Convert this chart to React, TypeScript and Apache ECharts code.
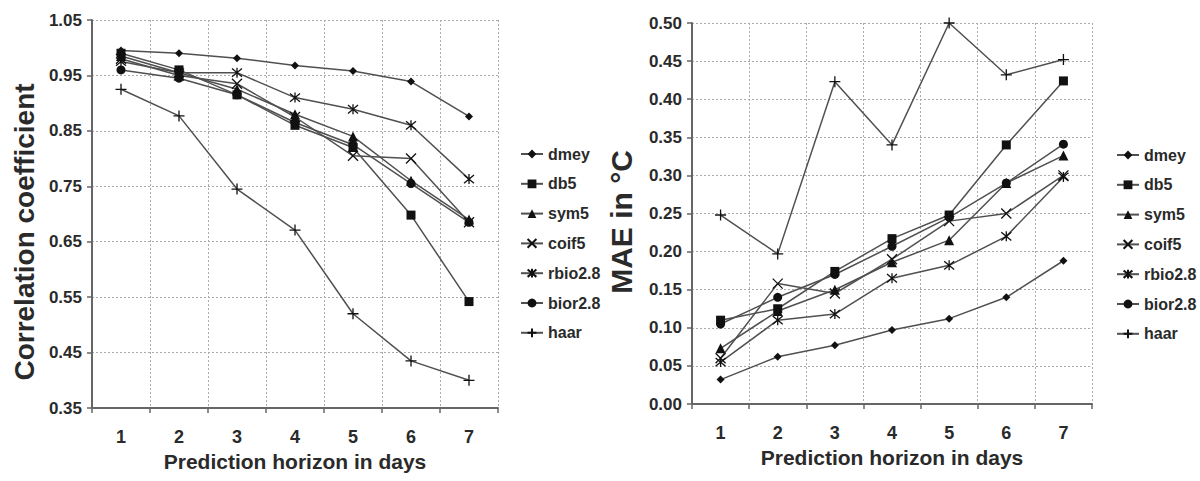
import React, { useEffect, useRef } from "react";
import * as echarts from "echarts";

const days = ["1", "2", "3", "4", "5", "6", "7"];
const seriesNames = ["dmey", "db5", "sym5", "coif5", "rbio2.8", "bior2.8", "haar"];

// Correlation coefficient (left chart)
const corrDmey = [0.995, 0.99, 0.981, 0.968, 0.958, 0.939, 0.876];
const corrDb5 = [0.99, 0.96, 0.915, 0.86, 0.82, 0.698, 0.542];
const corrSym5 = [0.985, 0.955, 0.925, 0.88, 0.84, 0.76, 0.69];
const corrCoif5 = [0.98, 0.95, 0.935, 0.875, 0.805, 0.8, 0.685];
const corrRbio28 = [0.975, 0.955, 0.955, 0.91, 0.889, 0.86, 0.763];
const corrBior28 = [0.96, 0.945, 0.915, 0.865, 0.825, 0.755, 0.685];
const corrHaar = [0.925, 0.877, 0.745, 0.671, 0.52, 0.435, 0.4];

// MAE in °C (right chart)
const maeDmey = [0.032, 0.062, 0.077, 0.097, 0.112, 0.14, 0.188];
const maeDb5 = [0.11, 0.125, 0.174, 0.217, 0.248, 0.34, 0.424];
const maeSym5 = [0.073, 0.122, 0.15, 0.186, 0.215, 0.29, 0.326];
const maeCoif5 = [0.06, 0.158, 0.145, 0.19, 0.24, 0.25, 0.3];
const maeRbio28 = [0.055, 0.11, 0.118, 0.165, 0.182, 0.22, 0.298];
const maeBior28 = [0.105, 0.14, 0.17, 0.207, 0.245, 0.29, 0.341];
const maeHaar = [0.248, 0.197, 0.423, 0.34, 0.5, 0.432, 0.452];

const corrTickLabels = ["0.35", "0.45", "0.55", "0.65", "0.75", "0.85", "0.95", "1.05"];

const corrData = [corrDmey, corrDb5, corrSym5, corrCoif5, corrRbio28, corrBior28, corrHaar];
const maeData = [maeDmey, maeDb5, maeSym5, maeCoif5, maeRbio28, maeBior28, maeHaar];

const symbols = [
  "diamond",
  "rect",
  "triangle",
  "path://M0,0L10,10M10,0L0,10",
  "path://M0,1L10,11M10,1L0,11M5,0L5,12",
  "circle",
  "path://M0,5L10,5M5,0L5,10",
];
const symbolSizes = [8, 9, 10, 10, 10, 9, 11];

const FONT = "'Liberation Sans', Arial, sans-serif";
const TXT = "#2a2a2a";

export default function App() {
  const ref = useRef<HTMLDivElement>(null);
  useEffect(() => {
    if (!ref.current) return;
    const chart = echarts.init(ref.current, undefined, { renderer: "svg" });

    const gridLine = { show: true, lineStyle: { color: "#aaa", type: [2, 2] as any, width: 1 } };
    const xAxisCommon = {
      type: "category",
      data: days,
      boundaryGap: true,
      axisLine: { show: true, lineStyle: { color: "#666", width: 2 } },
      axisTick: { show: true, length: 5, lineStyle: { color: "#666", width: 1.5 } },
      axisLabel: { margin: 20, fontSize: 18, fontWeight: "bold", color: TXT, fontFamily: FONT },
      splitLine: gridLine,
      name: "Prediction horizon in days",
      nameLocation: "middle",
      nameGap: 43,
      nameTextStyle: { fontSize: 21, fontWeight: "bold", color: TXT, fontFamily: FONT },
    };

    const makeSeries = (data: number[][], axisIdx: number, yIdx: number) =>
      seriesNames.map((n, i) => ({
        name: n,
        type: "line",
        xAxisIndex: axisIdx,
        yAxisIndex: yIdx,
        data: data[i],
        symbol: symbols[i],
        symbolSize: symbolSizes[i],
        showSymbol: true,
        lineStyle: { color: "#505050", width: 1.5 },
        itemStyle: { color: "#111", borderColor: "#111", borderWidth: i === 3 || i === 4 || i === 6 ? 1.3 : 0 },
        emphasis: { disabled: true },
      }));

    const legendCommon = {
      orient: "vertical",
      itemWidth: 22,
      itemHeight: 11,
      itemGap: 13.8,
      data: seriesNames,
      textStyle: { fontSize: 16, lineHeight: 16, fontWeight: "bold", color: TXT, fontFamily: FONT },
      selectedMode: false,
    };

    const yTickLabel = { margin: 10, fontSize: 17, fontWeight: "bold", color: TXT, fontFamily: FONT };

    chart.setOption({
      animation: false,
      backgroundColor: "#fff",
      legend: [
        { ...legendCommon, left: 515, top: 141 },
        { ...legendCommon, left: 1111, top: 142 },
      ],
      grid: [
        { left: 92, top: 20, width: 406, height: 388 },
        { left: 692, top: 23, width: 400, height: 381 },
      ],
      xAxis: [
        { ...xAxisCommon, gridIndex: 0 },
        { ...xAxisCommon, gridIndex: 1 },
      ],
      yAxis: [
        {
          // data axis of left chart
          type: "value",
          gridIndex: 0,
          position: "left",
          min: 0.35,
          max: 1.05,
          axisLine: { show: true, lineStyle: { color: "#666", width: 2 } },
          axisTick: { show: false },
          axisLabel: { show: false },
          splitLine: { show: false },
          name: "Correlation coefficient",
          nameLocation: "middle",
          nameGap: 54,
          nameTextStyle: {
            fontSize: 28,
            fontWeight: "bold",
            color: TXT,
            fontFamily: FONT,
            padding: [0, 36, 0, 0],
          },
        },
        {
          // tick/grid axis of left chart
          type: "value",
          gridIndex: 0,
          position: "left",
          min: 0,
          max: 0.7,
          interval: 0.1,
          axisLine: { show: false },
          axisTick: { show: true, length: 5, lineStyle: { color: "#666", width: 1.5 } },
          axisLabel: {
            ...yTickLabel,
            formatter: (v: number) => corrTickLabels[Math.round(v / 0.1)] ?? "",
          },
          splitLine: gridLine,
        },
        {
          type: "value",
          gridIndex: 1,
          position: "left",
          min: 0,
          max: 0.5,
          interval: 0.05,
          axisLine: { show: true, lineStyle: { color: "#666", width: 2 } },
          axisTick: { show: true, length: 5, lineStyle: { color: "#666", width: 1.5 } },
          axisLabel: { ...yTickLabel, formatter: (v: number) => v.toFixed(2) },
          splitLine: gridLine,
          name: "MAE in °C",
          nameLocation: "middle",
          nameGap: 56,
          nameTextStyle: {
            fontSize: 30,
            fontWeight: "bold",
            color: TXT,
            fontFamily: FONT,
            padding: [0, 17, 0, 0],
          },
        },
      ],
      series: [...makeSeries(corrData, 0, 0), ...makeSeries(maeData, 1, 2)],
    });
    return () => chart.dispose();
  }, []);
  return <div ref={ref} style={{ width: 1200, height: 481, position: "absolute", left: 0, top: 0 }} />;
}
